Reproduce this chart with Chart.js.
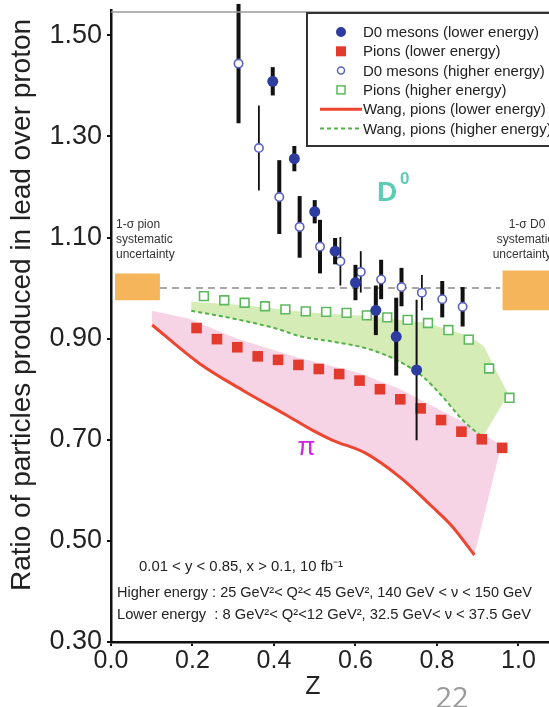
<!DOCTYPE html>
<html>
<head>
<meta charset="utf-8">
<script src="https://cdn.jsdelivr.net/npm/chart.js@4.4.1/dist/chart.umd.min.js"></script>
<style>
  html, body { margin: 0; padding: 0; background: #fff; }
  canvas { display: block; }
</style>
</head>
<body>
<canvas id="ratioChart" width="549" height="707"></canvas>
<script>
// ---- data : ratio lead / proton vs z ----
const xTicks = [0, 0.2, 0.4, 0.6, 0.8, 1.0];
const yTicks = [0.3, 0.5, 0.7, 0.9, 1.1, 1.3, 1.5];

// D0 mesons, lower energy (filled circles)
const d0LowZ     = [0.397, 0.45, 0.50, 0.55, 0.60, 0.65, 0.70, 0.75];
const d0LowRatio = [1.409, 1.256, 1.151, 1.073, 1.011, 0.956, 0.904, 0.838];
const d0LowErr   = [0.028, 0.025, 0.023, 0.026, 0.035, 0.049, 0.077, 0.139];

// D0 mesons, higher energy (open circles)
const d0HighZ     = [0.313, 0.363, 0.413, 0.463, 0.513, 0.563, 0.613, 0.663, 0.713, 0.763, 0.813, 0.863];
const d0HighRatio = [1.444, 1.277, 1.180, 1.121, 1.082, 1.053, 1.032, 1.017, 1.002, 0.991, 0.978, 0.963];
const d0HighErr   = [0.118, 0.084, 0.073, 0.061, 0.053, 0.048, 0.041, 0.039, 0.038, 0.035, 0.036, 0.039];

// pions, lower energy (filled squares)
const pionLowZ     = [0.21, 0.26, 0.31, 0.36, 0.41, 0.46, 0.51, 0.56, 0.61, 0.66, 0.71, 0.76, 0.81, 0.86, 0.91, 0.96];
const pionLowRatio = [0.921, 0.899, 0.883, 0.865, 0.858, 0.848, 0.840, 0.830, 0.817, 0.800, 0.780, 0.762, 0.739, 0.716, 0.701, 0.684];

// pions, higher energy (open squares)
const pionHighZ     = [0.228, 0.278, 0.328, 0.378, 0.428, 0.478, 0.528, 0.578, 0.628, 0.678, 0.728, 0.778, 0.828, 0.878, 0.928, 0.978];
const pionHighRatio = [0.984, 0.976, 0.971, 0.964, 0.958, 0.954, 0.953, 0.951, 0.946, 0.942, 0.937, 0.931, 0.917, 0.898, 0.841, 0.783];

// Wang calculation, pions
const wangLowZ      = [0.101, 0.217, 0.323, 0.430, 0.494, 0.544, 0.626, 0.712, 0.789, 0.838, 0.892];
const wangLowRatio  = [0.927, 0.851, 0.798, 0.749, 0.719, 0.699, 0.673, 0.624, 0.567, 0.528, 0.472];
const wangHighZ     = [0.197, 0.298, 0.405, 0.463, 0.544, 0.626, 0.700, 0.765, 0.814, 0.863, 0.912];
const wangHighRatio = [0.955, 0.940, 0.920, 0.905, 0.894, 0.881, 0.858, 0.825, 0.785, 0.739, 0.705];

// upper edges of the shaded theory bands
const pinkTopZ      = [0.100, 0.190, 0.310, 0.460, 0.610, 0.710, 0.810, 0.880, 0.958];
const pinkTopRatio  = [0.955, 0.940, 0.900, 0.862, 0.832, 0.800, 0.758, 0.728, 0.689];
const greenTopZ     = [0.197, 0.328, 0.478, 0.627, 0.777, 0.828, 0.880, 0.915, 0.975];
const greenTopRatio = [0.973, 0.966, 0.952, 0.945, 0.931, 0.917, 0.905, 0.885, 0.790];

// systematic uncertainty boxes [zMin, zMax, low, high]
const pionSystBox = [0.01, 0.12, 0.976, 1.029];
const d0SystBox   = [0.961, 1.2, 0.956, 1.035];

// error bar thickness per point
const d0LowBarWidth  = [4, 4, 4, 4, 4, 4, 4, 2];
const d0HighBarWidth = [4, 1.8, 4, 4, 4, 1.8, 1.8, 4, 4, 1.8, 4, 4];

const pts = (xs, ys) => xs.map((x, i) => ({ x: x, y: ys[i] }));
const box = b => [{x: b[0], y: b[2]}, {x: b[1], y: b[2]}, {x: b[1], y: b[3]}, {x: b[0], y: b[3]}, {x: b[0], y: b[2]}];

const FONT = "'Liberation Sans', Arial, Helvetica, sans-serif";

const colors = {
  d0Low: '#2c3c9f',
  d0High: '#5a62c4',
  pionLow: '#e23b2e',
  pionHigh: '#5cb85c',
  wangLow: '#ec4631',
  wangHigh: '#55b04a',
  pink: 'rgba(247, 212, 229, 1)',
  green: 'rgba(213, 236, 182, 1)',
  orange: '#f5b55b'
};

const legendItems = [
  { label: 'D0 mesons (lower energy)',   kind: 'dot' },
  { label: 'Pions (lower energy)',       kind: 'square' },
  { label: 'D0 mesons (higher energy)',  kind: 'ring' },
  { label: 'Pions (higher energy)',      kind: 'openSquare' },
  { label: 'Wang, pions (lower energy)', kind: 'line' },
  { label: 'Wang, pions (higher energy)', kind: 'dash' }
];

const decorations = {
  id: 'decorations',
  beforeDatasetDraw(chart, args) {
    const ds = chart.data.datasets[args.index];
    if (!ds.errors) return;
    const { x, y } = chart.scales;
    const ctx = chart.ctx;
    ctx.save();
    ctx.strokeStyle = '#111';
    ds.data.forEach((p, i) => {
      const px = x.getPixelForValue(p.x);
      ctx.lineWidth = ds.barWidths[i];
      ctx.beginPath();
      ctx.moveTo(px, y.getPixelForValue(p.y - ds.errors[i]));
      ctx.lineTo(px, y.getPixelForValue(p.y + ds.errors[i]));
      ctx.stroke();
    });
    ctx.restore();
  },
  afterDraw(chart) {
    const ctx = chart.ctx;
    const { x, y } = chart.scales;
    const area = chart.chartArea;
    ctx.save();

    // thin frame line along the top
    ctx.strokeStyle = '#9a9a9a';
    ctx.lineWidth = 1.5;
    ctx.beginPath();
    ctx.moveTo(area.left, area.top + 2);
    ctx.lineTo(area.right, area.top + 2);
    ctx.stroke();

    // axis titles
    ctx.fillStyle = '#222';
    ctx.textAlign = 'center';
    ctx.textBaseline = 'alphabetic';
    ctx.font = '25px ' + FONT;
    ctx.fillText('Z', 313, 694);
    ctx.save();
    ctx.translate(30, 305);
    ctx.rotate(-Math.PI / 2);
    ctx.font = '28px ' + FONT;
    ctx.fillText('Ratio of particles produced in lead over proton', 0, 0, 572);
    ctx.restore();

    // slide page number
    ctx.fillStyle = '#9a9a9a';
    ctx.font = '29px "Open Sans", sans-serif';
    ctx.fillText('22', 452, 708);

    // uncertainty captions
    ctx.fillStyle = '#333';
    ctx.font = '12px ' + FONT;
    ctx.textAlign = 'left';
    ctx.fillText('1-\u03c3 pion', 116, 228);
    ctx.fillText('systematic', 116, 243, 60);
    ctx.fillText('uncertainty', 116, 258, 60);
    ctx.textAlign = 'center';
    ctx.fillText('1-\u03c3 D0', 527, 228);
    ctx.fillText('systematic', 525, 243, 60);
    ctx.fillText('uncertainty', 522, 258, 62);

    // kinematics
    ctx.textAlign = 'left';
    ctx.fillStyle = '#222';
    ctx.font = '15px ' + FONT;
    ctx.fillText('0.01 < y < 0.85, x > 0.1, 10 fb\u207b\u00b9', 139, 571, 204);
    ctx.fillText('Higher energy : 25 GeV\u00b2< Q\u00b2< 45 GeV\u00b2, 140 GeV < \u03bd < 150 GeV', 117, 597, 415);
    ctx.fillText('Lower energy  : 8 GeV\u00b2< Q\u00b2<12 GeV\u00b2, 32.5 GeV< \u03bd < 37.5 GeV', 117, 619, 414);

    // D0 and pi labels
    ctx.fillStyle = '#5ccdb4';
    ctx.font = 'bold 28px ' + FONT;
    const dx = x.getPixelForValue(0.653), dy = y.getPixelForValue(1.173);
    ctx.fillText('D', dx, dy);
    ctx.font = 'bold 17px ' + FONT;
    ctx.fillText('0', dx + 23, dy - 17);
    ctx.fillStyle = '#d11fe6';
    ctx.font = '26px ' + FONT;
    ctx.textAlign = 'center';
    ctx.fillText('\u03c0', x.getPixelForValue(0.48), y.getPixelForValue(0.67));

    // legend
    const lx = 307, ly = 13;
    ctx.fillStyle = '#fff';
    ctx.fillRect(lx, ly, 260, 133);
    ctx.strokeStyle = '#333';
    ctx.lineWidth = 2;
    ctx.strokeRect(lx, ly, 260, 133);
    ctx.font = '15px ' + FONT;
    ctx.textAlign = 'left';
    ctx.textBaseline = 'middle';
    legendItems.forEach((item, i) => {
      const cy = 32 + i * 19.3;
      const mx = 341;
      ctx.lineWidth = 1.5;
      if (item.kind === 'dot') {
        ctx.fillStyle = colors.d0Low;
        ctx.beginPath(); ctx.arc(mx, cy, 5, 0, Math.PI * 2); ctx.fill();
      } else if (item.kind === 'square') {
        ctx.fillStyle = colors.pionLow;
        ctx.fillRect(mx - 5, cy - 5, 10, 10);
      } else if (item.kind === 'ring') {
        ctx.strokeStyle = colors.d0High;
        ctx.beginPath(); ctx.arc(mx, cy, 3.5, 0, Math.PI * 2); ctx.stroke();
      } else if (item.kind === 'openSquare') {
        ctx.strokeStyle = colors.pionHigh;
        ctx.strokeRect(mx - 4, cy - 4, 8, 8);
      } else if (item.kind === 'line') {
        ctx.strokeStyle = colors.wangLow;
        ctx.lineWidth = 3;
        ctx.beginPath(); ctx.moveTo(320, cy); ctx.lineTo(362, cy); ctx.stroke();
      } else {
        ctx.strokeStyle = colors.wangHigh;
        ctx.lineWidth = 2;
        ctx.setLineDash([4, 3]);
        ctx.beginPath(); ctx.moveTo(320, cy); ctx.lineTo(362, cy); ctx.stroke();
        ctx.setLineDash([]);
      }
      ctx.fillStyle = '#222';
      ctx.fillText(item.label, 363, cy + 1);
    });
    ctx.restore();
  }
};

const ctx = document.getElementById('ratioChart').getContext('2d');
new Chart(ctx, {
  type: 'scatter',
  data: {
    datasets: [
      {
        label: 'pink band',
        data: pts(pinkTopZ, pinkTopRatio).concat(pts(wangLowZ, wangLowRatio).reverse()),
        showLine: true, fill: 'shape', backgroundColor: colors.pink,
        borderWidth: 0, pointRadius: 0, tension: 0, order: 20
      },
      {
        label: 'green band',
        data: pts(greenTopZ, greenTopRatio).concat(pts(wangHighZ, wangHighRatio).reverse()),
        showLine: true, fill: 'shape', backgroundColor: colors.green,
        borderWidth: 0, pointRadius: 0, tension: 0, order: 19
      },
      {
        label: 'pion systematic',
        data: box(pionSystBox),
        showLine: true, fill: 'shape', backgroundColor: colors.orange,
        borderWidth: 0, pointRadius: 0, order: 18
      },
      {
        label: 'D0 systematic',
        data: box(d0SystBox),
        showLine: true, fill: 'shape', backgroundColor: colors.orange,
        borderWidth: 0, pointRadius: 0, order: 18
      },
      {
        label: 'unity',
        data: [{ x: 0.12, y: 1.0 }, { x: 0.955, y: 1.0 }],
        showLine: true, borderColor: '#8a8a8a', borderWidth: 1.5, borderDash: [7, 5],
        pointRadius: 0, order: 17
      },
      {
        label: 'Wang, pions (lower energy)',
        data: pts(wangLowZ, wangLowRatio),
        showLine: true, borderColor: colors.wangLow, borderWidth: 3,
        cubicInterpolationMode: 'monotone', pointRadius: 0, order: 16
      },
      {
        label: 'Wang, pions (higher energy)',
        data: pts(wangHighZ, wangHighRatio),
        showLine: true, borderColor: colors.wangHigh, borderWidth: 2, borderDash: [4, 3],
        cubicInterpolationMode: 'monotone', pointRadius: 0, order: 15
      },
      {
        label: 'Pions (lower energy)',
        data: pts(pionLowZ, pionLowRatio),
        pointStyle: 'rect', pointRadius: 7.5, pointBorderWidth: 0,
        backgroundColor: colors.pionLow, borderColor: colors.pionLow, order: 6
      },
      {
        label: 'Pions (higher energy)',
        data: pts(pionHighZ, pionHighRatio),
        pointStyle: 'rect', pointRadius: 6.2, pointBorderWidth: 1.6,
        backgroundColor: '#fff', borderColor: colors.pionHigh, order: 5
      },
      {
        label: 'D0 mesons (higher energy)',
        data: pts(d0HighZ, d0HighRatio),
        errors: d0HighErr, barWidths: d0HighBarWidth,
        pointStyle: 'circle', pointRadius: 4.2, pointBorderWidth: 1.6,
        backgroundColor: '#fff', borderColor: colors.d0High, order: 3
      },
      {
        label: 'D0 mesons (lower energy)',
        data: pts(d0LowZ, d0LowRatio),
        errors: d0LowErr, barWidths: d0LowBarWidth,
        pointStyle: 'circle', pointRadius: 5.5, pointBorderWidth: 0,
        backgroundColor: colors.d0Low, borderColor: colors.d0Low, order: 2
      }
    ]
  },
  options: {
    responsive: false,
    animation: false,
    devicePixelRatio: 1,
    layout: { autoPadding: false, padding: { top: 10, left: 0, right: 0, bottom: 0 } },
    plugins: { legend: { display: false }, tooltip: { enabled: false } },
    scales: {
      x: {
        type: 'linear', min: 0, max: 1.075,
        afterFit: s => { s.height = 65; s.paddingLeft = 0; s.paddingRight = 0; },
        afterBuildTicks: s => { s.ticks = xTicks.map(v => ({ value: v })); },
        grid: { drawOnChartArea: false, drawTicks: true, tickLength: 4, color: '#111', lineWidth: 2 },
        border: { display: true, color: '#111', width: 2.5 },
        ticks: {
          autoSkip: false, maxRotation: 0, padding: 0, color: '#222',
          font: { family: FONT, size: 25 },
          callback: v => v.toFixed(1)
        }
      },
      y: {
        type: 'linear', min: 0.3, max: 1.55,
        afterFit: s => { s.width = 111; s.paddingTop = 0; s.paddingBottom = 0; },
        afterBuildTicks: s => { s.ticks = yTicks.map(v => ({ value: v })); },
        grid: { drawOnChartArea: false, drawTicks: true, tickLength: 4, color: '#111', lineWidth: 2 },
        border: { display: true, color: '#111', width: 2.5 },
        ticks: {
          padding: 5, color: '#222',
          font: { family: FONT, size: 27 },
          callback: v => v.toFixed(2)
        }
      }
    }
  },
  plugins: [decorations]
});
</script>
</body>
</html>
